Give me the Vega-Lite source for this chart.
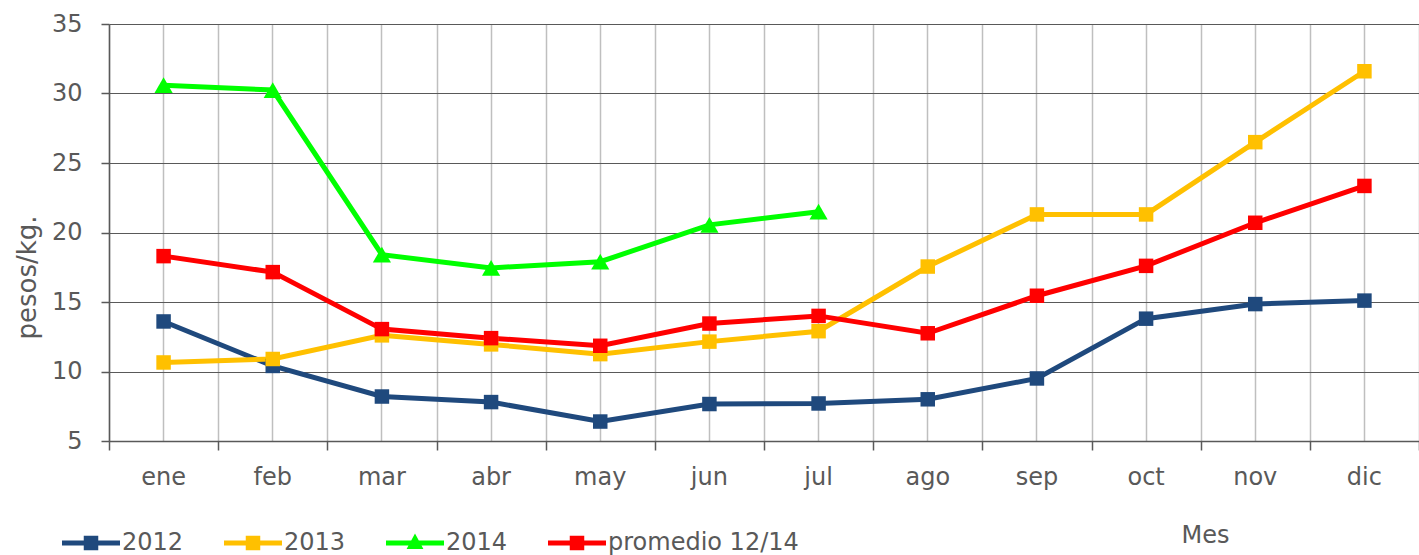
{
  "$schema": "https://vega.github.io/schema/vega-lite/v6.json",
  "width": 1310,
  "height": 417,
  "autosize": {"type": "none"},
  "padding": {"left": 109, "top": 24, "right": 0, "bottom": 114},
  "background": "white",
  "config": {
    "view": {"stroke": null},
    "font": "DejaVu Sans"
  },
  "data": {
    "values": [
      {"mes": "ene", "serie": "2012", "valor": 13.6},
      {"mes": "feb", "serie": "2012", "valor": 10.4},
      {"mes": "mar", "serie": "2012", "valor": 8.2},
      {"mes": "abr", "serie": "2012", "valor": 7.8},
      {"mes": "may", "serie": "2012", "valor": 6.4},
      {"mes": "jun", "serie": "2012", "valor": 7.66},
      {"mes": "jul", "serie": "2012", "valor": 7.7},
      {"mes": "ago", "serie": "2012", "valor": 8.0},
      {"mes": "sep", "serie": "2012", "valor": 9.5},
      {"mes": "oct", "serie": "2012", "valor": 13.8},
      {"mes": "nov", "serie": "2012", "valor": 14.85},
      {"mes": "dic", "serie": "2012", "valor": 15.1},
      {"mes": "ene", "serie": "2013", "valor": 10.65},
      {"mes": "feb", "serie": "2013", "valor": 10.9},
      {"mes": "mar", "serie": "2013", "valor": 12.6},
      {"mes": "abr", "serie": "2013", "valor": 11.95},
      {"mes": "may", "serie": "2013", "valor": 11.25},
      {"mes": "jun", "serie": "2013", "valor": 12.15},
      {"mes": "jul", "serie": "2013", "valor": 12.9},
      {"mes": "ago", "serie": "2013", "valor": 17.55},
      {"mes": "sep", "serie": "2013", "valor": 21.3},
      {"mes": "oct", "serie": "2013", "valor": 21.3},
      {"mes": "nov", "serie": "2013", "valor": 26.5},
      {"mes": "dic", "serie": "2013", "valor": 31.6},
      {"mes": "ene", "serie": "2014", "valor": 30.6},
      {"mes": "feb", "serie": "2014", "valor": 30.25},
      {"mes": "mar", "serie": "2014", "valor": 18.4},
      {"mes": "abr", "serie": "2014", "valor": 17.45},
      {"mes": "may", "serie": "2014", "valor": 17.9},
      {"mes": "jun", "serie": "2014", "valor": 20.55},
      {"mes": "jul", "serie": "2014", "valor": 21.5},
      {"mes": "ene", "serie": "promedio 12/14", "valor": 18.3},
      {"mes": "feb", "serie": "promedio 12/14", "valor": 17.15},
      {"mes": "mar", "serie": "promedio 12/14", "valor": 13.05},
      {"mes": "abr", "serie": "promedio 12/14", "valor": 12.4},
      {"mes": "may", "serie": "promedio 12/14", "valor": 11.85},
      {"mes": "jun", "serie": "promedio 12/14", "valor": 13.45},
      {"mes": "jul", "serie": "promedio 12/14", "valor": 14.0},
      {"mes": "ago", "serie": "promedio 12/14", "valor": 12.75},
      {"mes": "sep", "serie": "promedio 12/14", "valor": 15.45},
      {"mes": "oct", "serie": "promedio 12/14", "valor": 17.6},
      {"mes": "nov", "serie": "promedio 12/14", "valor": 20.7},
      {"mes": "dic", "serie": "promedio 12/14", "valor": 23.35}
    ]
  },
  "encoding": {
    "y": {
      "field": "valor",
      "type": "quantitative",
      "scale": {"domain": [5, 35], "nice": false, "zero": false},
      "axis": {
        "values": [5, 10, 15, 20, 25, 30, 35],
        "grid": true,
        "gridColor": "#595959",
        "gridWidth": 1,
        "domainColor": "#595959",
        "domainWidth": 1.5,
        "tickColor": "#595959",
        "tickSize": 8,
        "tickWidth": 1.5,
        "labelFontSize": 24,
        "labelColor": "#595959",
        "labelPadding": 19,
        "title": "pesos/kg.",
        "titleFontSize": 26,
        "titleFontWeight": "normal",
        "titleColor": "#595959",
        "titleAngle": 270,
        "titleX": -82,
        "titleY": 253,
        "titleAlign": "center",
        "titleBaseline": "middle"
      }
    }
  },
  "layer": [
    {
      "encoding": {
        "x": {
          "field": "mes",
          "type": "ordinal",
          "sort": ["ene", "feb", "mar", "abr", "may", "jun", "jul", "ago", "sep", "oct", "nov", "dic"],
          "scale": {"type": "band", "paddingInner": 0, "paddingOuter": 0},
          "axis": {
            "orient": "bottom",
            "bandPosition": 0.5,
            "grid": true,
            "gridColor": "#BFBFBF",
            "gridWidth": 1.5,
            "ticks": false,
            "domainColor": "#595959",
            "domainWidth": 1.5,
            "labelFontSize": 24,
            "labelColor": "#595959",
            "labelPadding": 24,
            "labelAngle": 0,
            "title": "Mes",
            "titleFontSize": 24,
            "titleFontWeight": "normal",
            "titleColor": "#595959",
            "titleX": 1096,
            "titleY": 94,
            "titleAlign": "center",
            "titleBaseline": "middle"
          }
        },
        "color": {
          "field": "serie",
          "type": "nominal",
          "scale": {
            "domain": ["2012", "2013", "2014", "promedio 12/14"],
            "range": ["#1F497D", "#FFC000", "#00FF00", "#FF0000"]
          },
          "legend": {
            "orient": "none",
            "legendX": -47,
            "legendY": 490,
            "direction": "horizontal",
            "title": null,
            "padding": 0,
            "symbolSize": 3364,
            "symbolStrokeWidth": 0,
            "symbolOpacity": 1,
            "labelFontSize": 24,
            "labelColor": "#595959",
            "labelOffset": 2,
            "labelLimit": 400,
            "columnPadding": 40
          }
        }
      },
      "layer": [
        {"mark": {"type": "line", "strokeWidth": 5}},
        {
          "transform": [{"filter": "datum.serie !== '2014'"}],
          "mark": {"type": "point", "shape": "square", "filled": true, "opacity": 1, "size": 210}
        },
        {
          "transform": [{"filter": "datum.serie === '2014'"}],
          "mark": {"type": "point", "shape": "triangle-up", "filled": true, "opacity": 1, "size": 330}
        },
        {
          "mark": {"type": "point", "filled": true, "opacity": 0, "size": 10},
          "encoding": {
            "shape": {
              "field": "serie",
              "type": "nominal",
              "scale": {
                "domain": ["2012", "2013", "2014", "promedio 12/14"],
                "range": [
                  "M-1,-0.085L1,-0.085L1,0.085L-1,0.085ZM-0.25,-0.25L0.25,-0.25L0.25,0.25L-0.25,0.25Z",
                  "M-1,-0.085L1,-0.085L1,0.085L-1,0.085ZM-0.25,-0.25L0.25,-0.25L0.25,0.25L-0.25,0.25Z",
                  "M-1,-0.085L1,-0.085L1,0.085L-1,0.085ZM0,-0.33L0.29,0.21L-0.29,0.21Z",
                  "M-1,-0.085L1,-0.085L1,0.085L-1,0.085ZM-0.25,-0.25L0.25,-0.25L0.25,0.25L-0.25,0.25Z"
                ]
              },
              "legend": null
            }
          }
        }
      ]
    },
    {
      "mark": {"type": "point", "opacity": 0},
      "encoding": {
        "x": {
          "field": "mes",
          "type": "ordinal",
          "sort": ["ene", "feb", "mar", "abr", "may", "jun", "jul", "ago", "sep", "oct", "nov", "dic"],
          "scale": {"type": "band", "paddingInner": 0, "paddingOuter": 0},
          "axis": {
            "orient": "bottom",
            "tickBand": "extent",
            "grid": true,
            "gridColor": "#BFBFBF",
            "gridWidth": 1.5,
            "labels": false,
            "domain": false,
            "title": null,
            "ticks": true,
            "tickColor": "#595959",
            "tickSize": 9,
            "tickWidth": 1.5
          }
        }
      }
    }
  ],
  "resolve": {"axis": {"x": "independent"}}
}
